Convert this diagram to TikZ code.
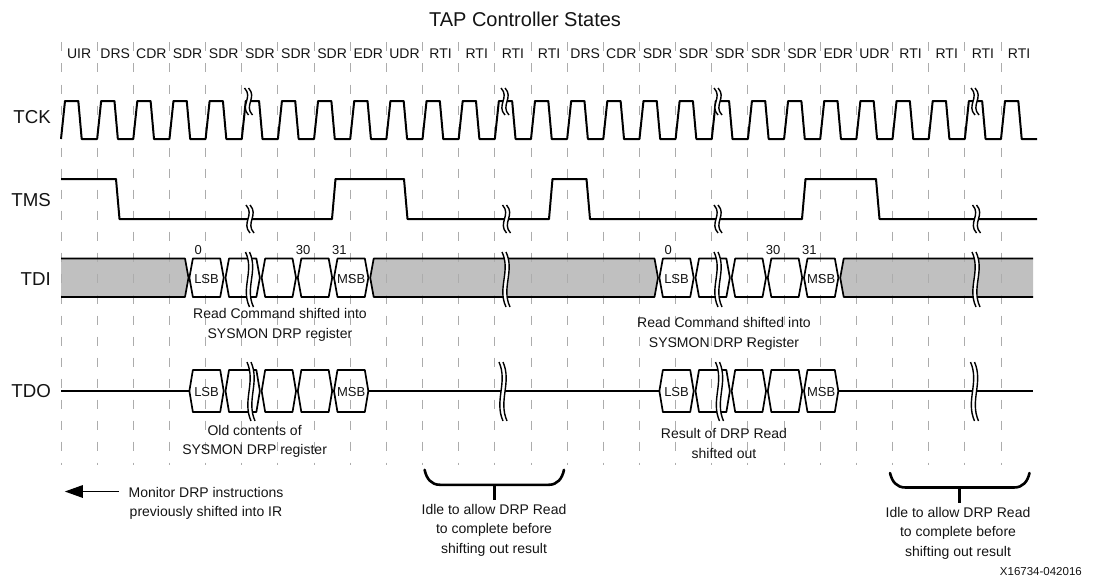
\documentclass[tikz,border=0pt]{standalone}
\usepackage{fontspec}
\setmainfont{Liberation Sans}
\usetikzlibrary{arrows.meta}
\definecolor{dashgray}{RGB}{172,172,172}
\definecolor{busgray}{RGB}{192,192,192}
\definecolor{txt}{RGB}{20,20,20}
\newcommand\LX[1]{(61+36.154*(#1))}
\newcommand\TX[1]{(80+36.154*(#1))}
\newcommand\busbox[4]{%
  \draw[bus] ({#1},{(#3+#4)/2}) -- ({(#1)+3.5},#3) -- ({(#2)-3.5},#3) -- ({#2},{(#3+#4)/2}) -- ({(#2)-3.5},#4) -- ({(#1)+3.5},#4) -- cycle;}
\newcommand\brk[3]{%
  \fill[white] ({#1-4},{#2-#3}) .. controls ({#1+5},{#2-0.3*#3}) and ({#1-9},{#2+0.3*#3}) .. ({#1},{#2+#3})
     -- ({#1+4},{#2+#3}) .. controls ({#1-5},{#2+0.3*#3}) and ({#1+9},{#2-0.3*#3}) .. ({#1},{#2-#3}) -- cycle;
  \draw[brkline] ({#1-4},{#2-#3}) .. controls ({#1+5},{#2-0.3*#3}) and ({#1-9},{#2+0.3*#3}) .. ({#1},{#2+#3});
  \draw[brkline] ({#1},{#2-#3}) .. controls ({#1+9},{#2-0.3*#3}) and ({#1-5},{#2+0.3*#3}) .. ({#1+4},{#2+#3});}
\begin{document}
\begin{tikzpicture}[x=1pt,y=-1pt,
  wave/.style={line width=2pt,line join=round,black},
  bus/.style={line width=1.7pt,line join=round,black},
  brkline/.style={line width=1.4pt,black},
  dashline/.style={dashgray,line width=1pt,dash pattern=on 9pt off 12pt},
  brace/.style={line width=2.6pt,black},
  statelbl/.style={inner sep=0pt,text=txt,font=\fontsize{14}{16}\selectfont},
  rowlbl/.style={inner sep=0pt,anchor=east,text=txt,font=\fontsize{18.7}{22}\selectfont},
  numlbl/.style={inner sep=0pt,anchor=east,text=txt,font=\fontsize{13}{15}\selectfont},
  bitlbl/.style={inner sep=0pt,text=txt,font=\fontsize{13}{15}\selectfont},
  note/.style={inner sep=0pt,align=center,text=txt,font=\fontsize{14}{19.5}\selectfont}]
\useasboundingbox (0,0) rectangle (1100,586);

% title and states
\node[inner sep=0pt,text=txt,font=\fontsize{20}{24}\selectfont] (title) at (525,19.5) {TAP Controller States};
\foreach \s [count=\i from 0] in {UIR,DRS,CDR,SDR,SDR,SDR,SDR,SDR,EDR,UDR,RTI,RTI,RTI,RTI,DRS,CDR,SDR,SDR,SDR,SDR,SDR,EDR,UDR,RTI,RTI,RTI,RTI}
  \node[statelbl] (st\i) at ({\LX{\i}+18.08},53.3) {\s};

% row labels
\node[rowlbl] (tck) at (51,117.5) {TCK};
\node[rowlbl] (tms) at (51,200) {TMS};
\node[rowlbl] (tdi) at (51,279) {TDI};
\node[rowlbl] (tdo) at (51,391.5) {TDO};

% gray bus fills
\fill[busgray] (61,258.5) -- (185,258.5) -- (188.5,277.75) -- (185,297) -- (61,297) -- cycle;
\fill[busgray] (370.2,277.75) -- (373.7,258.5) -- (654.5,258.5) -- (658,277.75) -- (654.5,297) -- (373.7,297) -- cycle;
\fill[busgray] (840.2,277.75) -- (843.7,258.5) -- (1033,258.5) -- (1033,297) -- (843.7,297) -- cycle;

% dashed state boundaries
\foreach \i in {0,...,26}
  \draw[dashline] ({\LX{\i}},42.5) -- ({\LX{\i}},464.5);

% TCK
\draw[wave] (61,139) \foreach \i in {0,...,26} { -- ({\LX{\i}},139) -- ({\LX{\i}+4},101) -- ({\LX{\i}+17.3},101) -- ({\LX{\i}+20.7},139) } -- (1037,139);

% TMS
\draw[wave] (61,179) -- (116,179) -- (119.5,219) -- (332,219) -- (335.5,179) -- (404,179) -- (407.5,219)
  -- (549,219) -- (552.5,179) -- (586.5,179) -- (590,219) -- (802,219) -- (805.5,179) -- (876,179) -- (879.5,219) -- (1037,219);

% TDI outlines
\draw[bus] (61,258.5) -- (185,258.5) -- (188.5,277.75) -- (185,297) -- (61,297);
\draw[bus] (370.2,277.75) -- (373.7,258.5) -- (654.5,258.5) -- (658,277.75) -- (654.5,297) -- (373.7,297) -- cycle;
\draw[bus] (1033,258.5) -- (843.7,258.5) -- (840.2,277.75) -- (843.7,297) -- (1033,297);
\foreach \j in {3,4,5,6,7,16,17,18,19,20} {
  \busbox{\TX{\j}+0.9}{\TX{\j+1}-0.9}{258.5}{297}
  \busbox{\TX{\j}+0.9}{\TX{\j+1}-0.9}{370}{412}
}

% TDO line
\draw[bus] (61,391) -- ({\TX{3}+0.9},391);
\draw[bus] ({\TX{8}-0.9},391) -- ({\TX{16}+0.9},391);
\draw[bus] ({\TX{21}-0.9},391) -- (1033,391);

% bit labels
\foreach \j/\n in {3/a,16/b} {
  \node[bitlbl] (lsbi\n) at ({(\TX{\j}+\TX{\j+1})/2},279) {LSB};
  \node[bitlbl] (lsbo\n) at ({(\TX{\j}+\TX{\j+1})/2},392) {LSB};
}
\foreach \j/\n in {7/a,20/b} {
  \node[bitlbl] (msbi\n) at ({(\TX{\j}+\TX{\j+1})/2},279) {MSB};
  \node[bitlbl] (msbo\n) at ({(\TX{\j}+\TX{\j+1})/2},392) {MSB};
}
\node[numlbl] (n0a) at ({\LX{4}-3.5},250) {0};
\node[numlbl] (n30a) at ({\LX{7}-3.5},250) {30};
\node[numlbl] (n31a) at ({\LX{8}-3.5},250) {31};
\node[numlbl] (n0b) at ({\LX{17}-3.5},250) {0};
\node[numlbl] (n30b) at ({\LX{20}-3.5},250) {30};
\node[numlbl] (n31b) at ({\LX{21}-3.5},250) {31};

% breaks
\foreach \x in {248.5,505,718,975} \brk{\x}{101.5}{13.5};
\foreach \x in {250,506.5,718,976.5} \brk{\x}{219}{14};
\foreach \x in {249.5,506,718,976} \brk{\x}{279.5}{27.5};
\foreach \x in {251,503,719.5,974.5} \brk{\x}{391.5}{29.5};

% annotations
\node[note] (rc1) at (280,325) {Read Command shifted into\\SYSMON DRP register};
\node[note] (old) at (254.6,441.4) {Old contents of\\SYSMON DRP register};
\node[note] (rc2) at (724,333.8) {Read Command shifted into\\SYSMON DRP Register};
\node[note] (res) at (724,443.4) {Result of DRP Read\\shifted out};
\node[note] (mon) at (206,503.2) {Monitor DRP instructions\\previously shifted into IR};
\coordinate (arrtail) at (119,491.5);
\coordinate (arrtip) at (64.8,491.5);
\draw[line width=1.4pt,-{Triangle[length=18pt,width=12.5pt]}] (arrtail) -- (arrtip);

% braces
\coordinate (b1l) at (424.6,469.8);
\coordinate (b1r) at (564,469.8);
\coordinate (b1m) at (494.3,484.8);
\draw[brace,line cap=round] (b1l) .. controls (426.5,478.5) and (431,484.8) .. (440,484.8) -- (548.6,484.8) .. controls (557.6,484.8) and (562.1,478.5) .. (b1r);
\draw[brace] (b1m) -- (494.3,499.5);
\node[note] (idle1) at (494,530) {Idle to allow DRP Read\\to complete before\\shifting out result};
\coordinate (b2l) at (890,473);
\coordinate (b2r) at (1029.5,473);
\coordinate (b2m) at (959.5,487.5);
\draw[brace,line cap=round] (b2l) .. controls (892,481.5) and (896.5,487.5) .. (905.5,487.5) -- (1014,487.5) .. controls (1023,487.5) and (1027.5,481.5) .. (b2r);
\draw[brace] (b2m) -- (959.5,503);
\node[note] (idle2) at (958,533) {Idle to allow DRP Read\\to complete before\\shifting out result};

\node[inner sep=0pt,anchor=east,text=txt,font=\fontsize{11.5}{13}\selectfont] (xid) at (1082,572) {X16734-042016};
\end{tikzpicture}
\end{document}
